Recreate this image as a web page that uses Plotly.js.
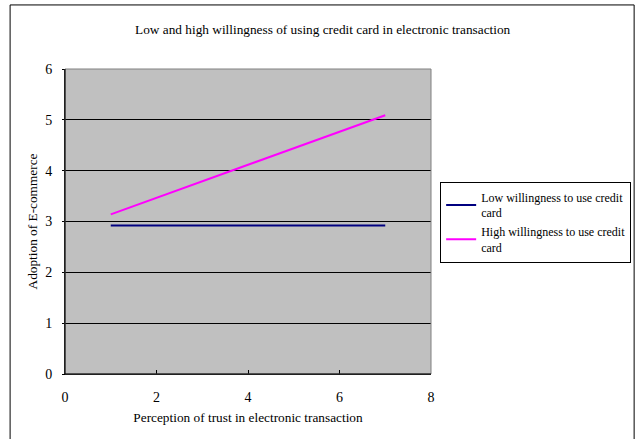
<!DOCTYPE html>
<html>
<head>
<meta charset="utf-8">
<script src="https://cdn.plot.ly/plotly-3.0.1.min.js"></script>
<style>html,body{margin:0;padding:0;background:#fff;}#chart{width:639px;height:439px;}</style>
</head>
<body>
<div id="chart"></div>
<script>
const trustX = [1, 7];
const lowWillingness = [2.92, 2.92];
const highWillingness = [3.14, 5.09];
const seriesNames = ["Low willingness to use credit<br>card", "High willingness to use credit<br>card"];
const xTicks = [0, 2, 4, 6, 8];
const yTicks = [0, 1, 2, 3, 4, 5, 6];

const fam = '"Liberation Serif", "Times New Roman", serif';
const font = {family: fam, size: 13.3, color: '#000'};
const tickFont = {family: fam, size: 14, color: '#000'};
const legendFont = {family: fam, size: 12, color: '#000'};

const traces = [
  {x: trustX, y: lowWillingness, name: seriesNames[0], mode: 'lines', line: {color: '#000080', width: 2}},
  {x: trustX, y: highWillingness, name: seriesNames[1], mode: 'lines', line: {color: '#FF00FF', width: 2}}
];

const layout = {
  width: 639, height: 439,
  margin: {l: 65, r: 208, t: 69, b: 65, autoexpand: false},
  paper_bgcolor: '#fff',
  plot_bgcolor: '#C0C0C0',
  font: font,
  showlegend: true,
  title: {text: 'Low and high willingness of using credit card in electronic transaction', font: font, xref: 'container', x: 0.505, xanchor: 'center', yref: 'container', y: 0.934, yanchor: 'middle'},
  xaxis: {
    range: [0, 8], tickvals: xTicks, ticktext: xTicks.map(String),
    showgrid: false, zeroline: false,
    showline: true, linecolor: '#000', linewidth: 1, mirror: false,
    ticks: 'inside', ticklen: 4, tickcolor: '#000',
    tickfont: tickFont, ticklabelstandoff: 10,
    title: {text: 'Perception of trust in electronic transaction', font: font, standoff: 8}
  },
  yaxis: {
    range: [0, 6], tickvals: yTicks, ticktext: yTicks.map(String),
    showgrid: true, gridcolor: '#000', gridwidth: 1, zeroline: false,
    showline: true, linecolor: '#000', linewidth: 1,
    ticks: 'outside', ticklen: 2, tickcolor: '#000',
    tickfont: tickFont, ticklabelstandoff: 7,
    title: {text: 'Adoption of E-commerce', font: font, standoff: 4}
  },
  legend: {
    x: 1.025, xanchor: 'left', y: 0.63, yanchor: 'top',
    bgcolor: '#fff', bordercolor: '#000', borderwidth: 1,
    font: legendFont, tracegroupgap: 0, itemwidth: 30
  },
  shapes: [
    {type: 'rect', xref: 'paper', yref: 'paper', x0: 0, x1: 1, y0: 0, y1: 1, line: {color: '#808080', width: 1}, layer: 'above'},
    {type: 'line', xref: 'paper', yref: 'paper', x0: 0, x1: 0, y0: 0, y1: 1, line: {color: '#000', width: 1}, layer: 'above'},
    {type: 'line', xref: 'paper', yref: 'paper', x0: 0, x1: 1, y0: 0, y1: 0, line: {color: '#000', width: 1}, layer: 'above'},
    {type: 'rect', xref: 'paper', yref: 'paper', x0: -0.150, x1: 1.555, y0: -0.25, y1: 1.21, line: {color: '#000', width: 1}}
  ]
};

Plotly.newPlot('chart', traces, layout, {displayModeBar: false, staticPlot: true});
</script>
</body>
</html>
